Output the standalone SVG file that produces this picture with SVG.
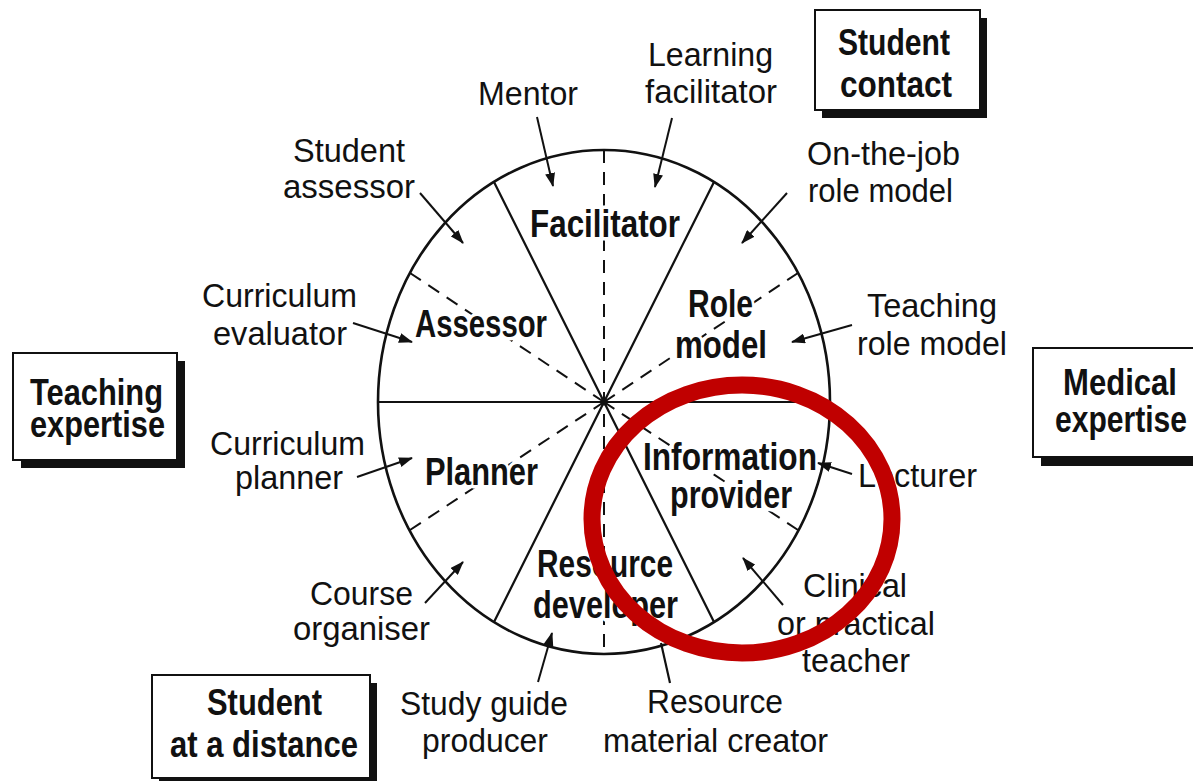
<svg xmlns="http://www.w3.org/2000/svg" width="1193" height="781" viewBox="0 0 1193 781">
<style>
text{font-family:"Liberation Sans",Arial,sans-serif;fill:#111}
.lbl{font-size:34px}
.sec{font-size:39px;font-weight:bold;stroke:#fff;stroke-width:7px;stroke-linejoin:round;paint-order:stroke}
.box{font-size:37px;font-weight:bold}
.ln{stroke:#111;stroke-width:2.2;fill:none}
.dash{stroke:#111;stroke-width:2;stroke-dasharray:13 9;fill:none}
.arr{stroke:#111;stroke-width:2;fill:none;marker-end:url(#ah)}
.frame{fill:#fff;stroke:#111;stroke-width:2}
.shadow{fill:#111}
</style>
<defs>
<marker id="ah" markerUnits="userSpaceOnUse" markerWidth="14" markerHeight="10" refX="13" refY="5" orient="auto">
<path d="M0,0 L14,5 L0,10 z" fill="#111"/>
</marker>
</defs>
<rect width="1193" height="781" fill="#fff"/>

<g id="wheel">
<ellipse cx="604" cy="402" rx="226" ry="252" fill="#fff" stroke="#111" stroke-width="2.6"/>
<line class="ln" x1="378" y1="402" x2="830" y2="402"/>
<line class="ln" x1="494" y1="182" x2="714" y2="622"/>
<line class="ln" x1="714" y1="182" x2="494" y2="622"/>
<line class="dash" x1="604" y1="150" x2="604" y2="654"/>
<line class="dash" x1="410" y1="273" x2="604" y2="402"/>
<line class="dash" x1="798" y1="273" x2="604" y2="402"/>
<line class="dash" x1="410" y1="530" x2="604" y2="402"/>
<line class="dash" x1="798" y1="530" x2="604" y2="402"/>
<circle cx="604" cy="402" r="3.5" fill="#111"/>
</g>

<g id="sector-facilitator"><text class="sec" x="530" y="237" textLength="150" lengthAdjust="spacingAndGlyphs">Facilitator</text></g>
<g id="sector-assessor"><text class="sec" x="415" y="337" textLength="132" lengthAdjust="spacingAndGlyphs">Assessor</text></g>
<g id="sector-role-model"><text class="sec" x="688" y="317" textLength="65" lengthAdjust="spacingAndGlyphs">Role</text><text class="sec" x="675" y="358" textLength="92" lengthAdjust="spacingAndGlyphs">model</text></g>
<g id="sector-planner"><text class="sec" x="425" y="485" textLength="113" lengthAdjust="spacingAndGlyphs">Planner</text></g>
<g id="sector-information-provider"><text class="sec" x="643" y="470" textLength="174" lengthAdjust="spacingAndGlyphs">Information</text><text class="sec" x="670" y="508" textLength="122" lengthAdjust="spacingAndGlyphs">provider</text></g>
<g id="sector-resource-developer"><text class="sec" x="537" y="577" textLength="136" lengthAdjust="spacingAndGlyphs">Resource</text><text class="sec" x="533" y="618" textLength="145" lengthAdjust="spacingAndGlyphs">developer</text></g>

<g id="connectors">
<line class="arr" x1="537" y1="117" x2="553" y2="186"/>
<line class="arr" x1="672" y1="118" x2="655" y2="187"/>
<line class="arr" x1="420" y1="193" x2="463" y2="243"/>
<line class="arr" x1="787" y1="193" x2="742" y2="243"/>
<line class="arr" x1="353" y1="323" x2="412" y2="342"/>
<line class="arr" x1="852" y1="325" x2="792" y2="342"/>
<line class="arr" x1="357" y1="477" x2="412" y2="458"/>
<line class="arr" x1="852" y1="474" x2="818" y2="463"/>
<line class="arr" x1="425" y1="603" x2="463" y2="562"/>
<line class="arr" x1="783" y1="605" x2="743" y2="558"/>
<line class="arr" x1="538" y1="682" x2="552" y2="633"/>
<line class="ln" x1="670" y1="683" x2="661" y2="643"/>
</g>

<g id="label-mentor"><text class="lbl" x="478" y="105" textLength="100" lengthAdjust="spacingAndGlyphs">Mentor</text></g>
<g id="label-learning-facilitator"><text class="lbl" x="648" y="66" textLength="125" lengthAdjust="spacingAndGlyphs">Learning</text><text class="lbl" x="645" y="103" textLength="132" lengthAdjust="spacingAndGlyphs">facilitator</text></g>
<g id="label-student-assessor"><text class="lbl" x="293" y="162" textLength="112" lengthAdjust="spacingAndGlyphs">Student</text><text class="lbl" x="283" y="198" textLength="132" lengthAdjust="spacingAndGlyphs">assessor</text></g>
<g id="label-on-the-job"><text class="lbl" x="807" y="165" textLength="153" lengthAdjust="spacingAndGlyphs">On-the-job</text><text class="lbl" x="808" y="202" textLength="145" lengthAdjust="spacingAndGlyphs">role model</text></g>
<g id="label-curriculum-evaluator"><text class="lbl" x="202" y="307" textLength="155" lengthAdjust="spacingAndGlyphs">Curriculum</text><text class="lbl" x="213" y="345" textLength="134" lengthAdjust="spacingAndGlyphs">evaluator</text></g>
<g id="label-teaching-role-model"><text class="lbl" x="867" y="317" textLength="130" lengthAdjust="spacingAndGlyphs">Teaching</text><text class="lbl" x="857" y="355" textLength="150" lengthAdjust="spacingAndGlyphs">role model</text></g>
<g id="label-curriculum-planner"><text class="lbl" x="210" y="455" textLength="155" lengthAdjust="spacingAndGlyphs">Curriculum</text><text class="lbl" x="235" y="489" textLength="108" lengthAdjust="spacingAndGlyphs">planner</text></g>
<g id="label-lecturer"><text class="lbl" x="858" y="487" textLength="119" lengthAdjust="spacingAndGlyphs">Lecturer</text></g>
<g id="label-course-organiser"><text class="lbl" x="310" y="605" textLength="103" lengthAdjust="spacingAndGlyphs">Course</text><text class="lbl" x="293" y="640" textLength="137" lengthAdjust="spacingAndGlyphs">organiser</text></g>
<g id="label-clinical-teacher"><text class="lbl" x="803" y="597" textLength="104" lengthAdjust="spacingAndGlyphs">Clinical</text><text class="lbl" x="777" y="635" textLength="158" lengthAdjust="spacingAndGlyphs">or practical</text><text class="lbl" x="802" y="672" textLength="108" lengthAdjust="spacingAndGlyphs">teacher</text></g>
<g id="label-study-guide"><text class="lbl" x="400" y="715" textLength="168" lengthAdjust="spacingAndGlyphs">Study guide</text><text class="lbl" x="422" y="752" textLength="126" lengthAdjust="spacingAndGlyphs">producer</text></g>
<g id="label-resource-material"><text class="lbl" x="647" y="713" textLength="136" lengthAdjust="spacingAndGlyphs">Resource</text><text class="lbl" x="603" y="752" textLength="225" lengthAdjust="spacingAndGlyphs">material creator</text></g>

<g id="box-student-contact">
<rect class="shadow" x="822" y="18" width="165" height="100"/>
<rect class="frame" x="815" y="10" width="165" height="100"/>
<text class="box" x="838" y="55" textLength="112" lengthAdjust="spacingAndGlyphs">Student</text>
<text class="box" x="840" y="97" textLength="112" lengthAdjust="spacingAndGlyphs">contact</text>
</g>
<g id="box-teaching-expertise">
<rect class="shadow" x="21" y="361" width="164" height="107"/>
<rect class="frame" x="13" y="353" width="164" height="107"/>
<text class="box" x="30" y="405" textLength="133" lengthAdjust="spacingAndGlyphs">Teaching</text>
<text class="box" x="30" y="437" textLength="135" lengthAdjust="spacingAndGlyphs">expertise</text>
</g>
<g id="box-medical-expertise">
<rect class="shadow" x="1041" y="357" width="170" height="109"/>
<rect class="frame" x="1033" y="348" width="172" height="109"/>
<text class="box" x="1063" y="395" textLength="114" lengthAdjust="spacingAndGlyphs">Medical</text>
<text class="box" x="1055" y="432" textLength="132" lengthAdjust="spacingAndGlyphs">expertise</text>
</g>
<g id="box-student-distance">
<rect class="shadow" x="159" y="683" width="218" height="103"/>
<rect class="frame" x="152" y="675" width="218" height="103"/>
<text class="box" x="207" y="715" textLength="115" lengthAdjust="spacingAndGlyphs">Student</text>
<text class="box" x="170" y="757" textLength="188" lengthAdjust="spacingAndGlyphs">at a distance</text>
</g>

<g id="highlight">
<ellipse cx="742" cy="519" rx="150" ry="134" fill="none" stroke="#c00000" stroke-width="17"/>
</g>
</svg>
